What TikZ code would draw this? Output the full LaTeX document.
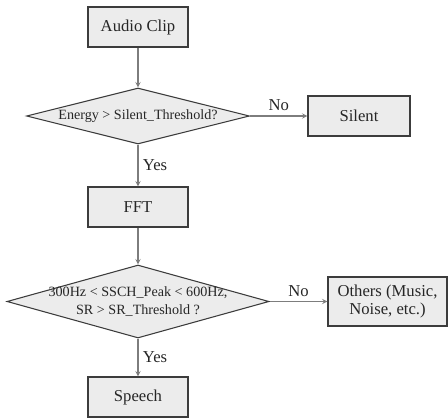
\documentclass[tikz,border=0pt]{standalone}
\usepackage{fontspec}
\setmainfont{Liberation Serif}
\usepackage{tikz}
\usetikzlibrary{shapes.geometric,positioning}

\definecolor{boxfill}{RGB}{236,236,236}
\definecolor{boxline}{RGB}{60,60,60}
\definecolor{flowline}{RGB}{125,125,125}

\begin{document}
\begin{tikzpicture}[
    x = 0.75pt,
    y = -0.75pt,
    procbox/.style={draw=boxline, fill=boxfill, line width=0.8pt, minimum width=75pt, minimum height=30pt, inner sep=0pt, font=\fontsize{12.5}{14}\selectfont, text=black!85},
    testbox/.style={draw=boxline, fill=boxfill, line width=0.8pt, diamond, aspect=4, inner xsep=-40pt, inner ysep=-6pt, font=\fontsize{10.6}{13}\selectfont, text=black!85, align=center},
    flow/.style={draw=flowline, line width=0.8pt, -stealth},
    answer/.style={font=\fontsize{12.5}{14}\selectfont, text=black!85}
    ]
    \useasboundingbox (0,0) rectangle (448,418);
    \node[procbox] (clip) at (138,27) {Audio Clip};
    \node[testbox, minimum width=167.25pt, minimum height=42pt] (energy) at (138,116) {Energy > Silent\_Threshold?};
    \node[procbox, minimum width=76.5pt] (silent) at (359,116) {Silent};
    \node[procbox] (fft) at (138,207) {FFT};
    \node[testbox, minimum width=196.5pt, minimum height=54.75pt] (peak) at (138,301.5) {300Hz < SSCH\_Peak < 600Hz,\\ SR > SR\_Threshold ?};
    \node[procbox, minimum width=89.25pt, minimum height=36.75pt, align=center] (others) at (387.5,301.5) {Others (Music,\\ Noise, etc.)};
    \node[procbox] (speech) at (138,397) {Speech};

    \draw[flow] (clip) -- (energy);
    \draw[flow] (energy) -- node[answer, above] {No} (silent);
    \draw[flow] (energy) -- node[answer, right] {Yes} (fft);
    \draw[flow] (fft) -- (peak);
    \draw[flow] (peak) -- node[answer, above] {No} (others);
    \draw[flow] (peak) -- node[answer, right] {Yes} (speech);
\end{tikzpicture}
\end{document}
